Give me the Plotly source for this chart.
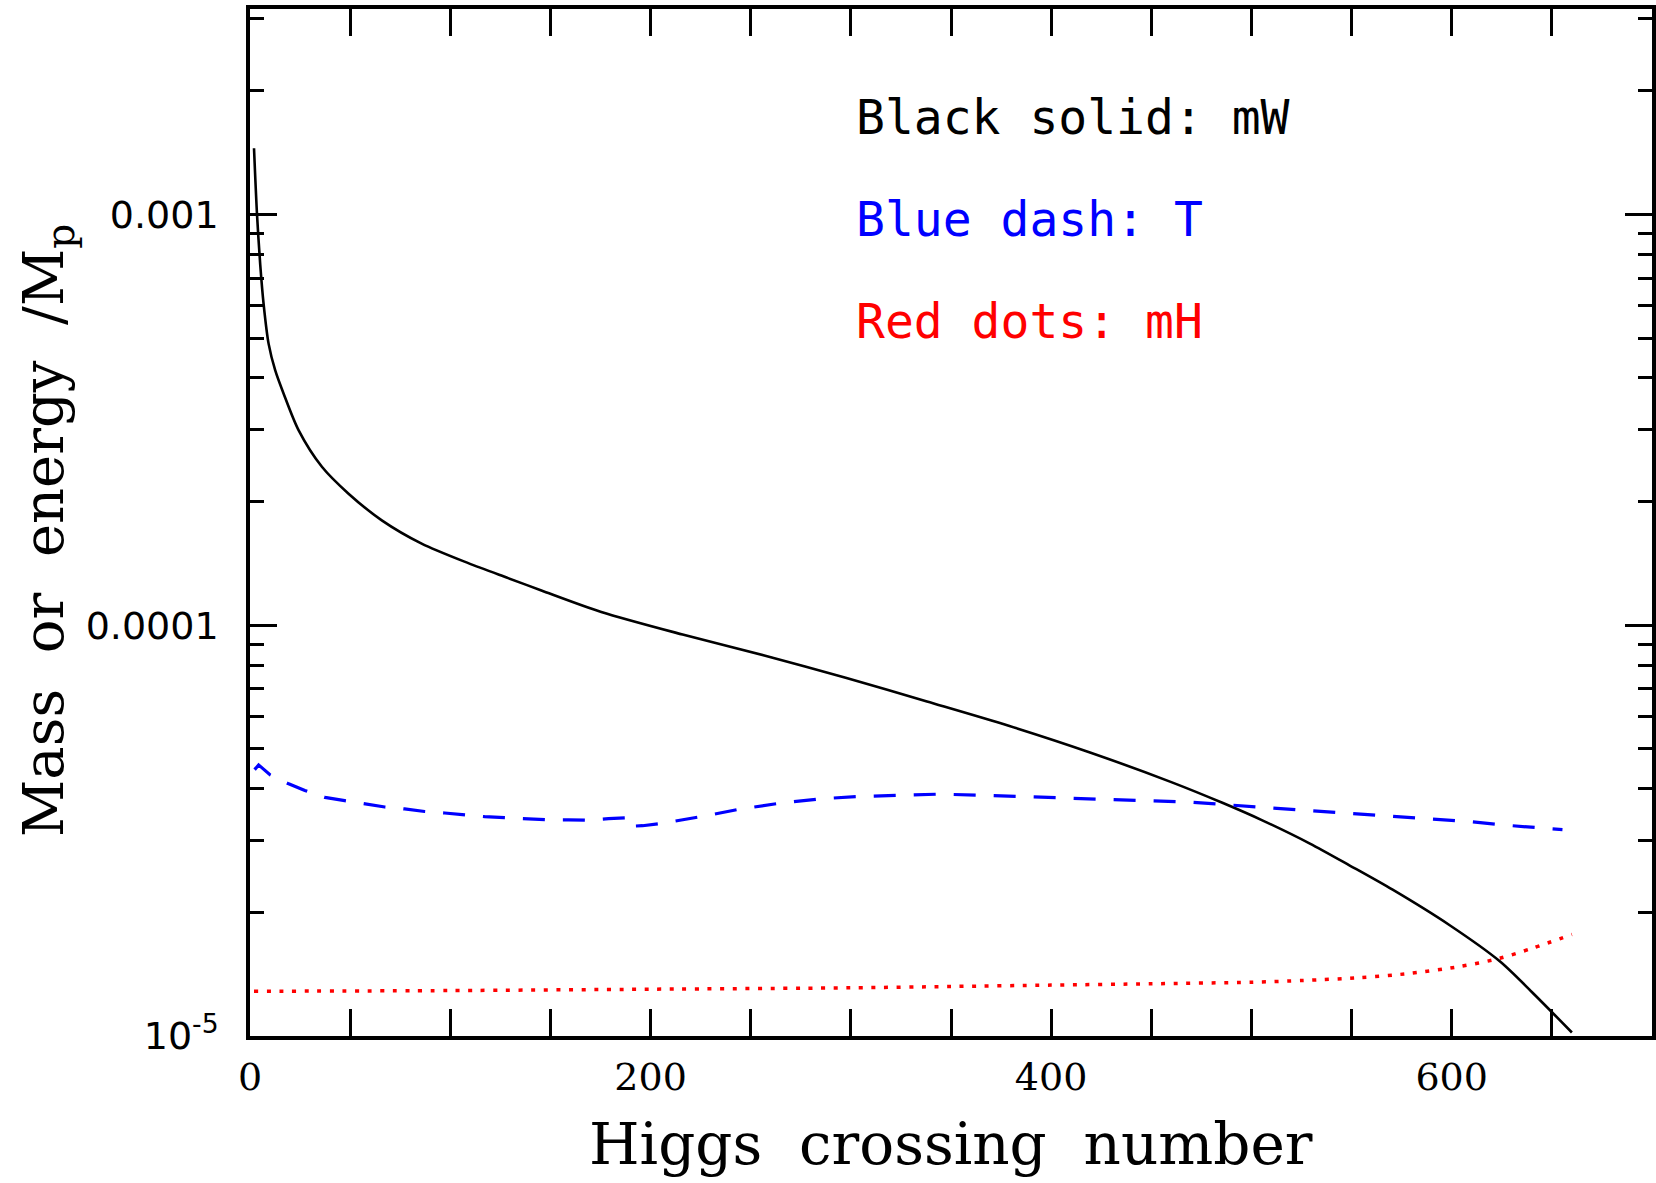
import plotly.graph_objects as go

# ---- data ----
mw_x = [2, 3.5, 5.1, 6.8, 9.3, 12.6, 16.8, 24.3, 35.9, 49.2, 65.8, 85.7, 109, 128.9, 145.5,
        175.4, 216, 256.8, 297.4, 338, 378.8, 419.4, 460, 485.8, 505.7, 529.2, 549.1, 570.5,
        599, 624, 640, 660]
mw_y = [1.449e-3, 1.0e-3, 7.56e-4, 6.05e-4, 4.84e-4, 4.17e-4, 3.66e-4, 2.98e-4, 2.43e-4, 2.09e-4,
        1.80e-4, 1.58e-4, 1.416e-4, 1.302e-4, 1.215e-4, 1.077e-4, 9.49e-5, 8.44e-5, 7.45e-5,
        6.52e-5, 5.69e-5, 4.90e-5, 4.15e-5, 3.69e-5, 3.345e-5, 2.94e-5, 2.60e-5, 2.27e-5,
        1.86e-5, 1.52e-5, 1.28e-5, 1.02e-5]

t_x = [2.3, 4.3, 10.1, 19.3, 27.4, 37.4, 47.3, 57.3, 67.3, 77.2, 87.2, 97.2, 107.1, 117.1, 127,
       139, 149, 159, 169, 179, 189, 190, 196, 205, 215, 225.2, 245.1, 265.1, 285, 305, 324.9,
       344.8, 364.7, 384.7, 404.6, 424.5, 444.4, 469.4, 489.3, 510.7, 530.6, 549.1, 570.5,
       590.4, 610.4, 630.3, 655.3]
t_y = [4.45e-5, 4.57e-5, 4.32e-5, 4.11e-5, 3.96e-5, 3.81e-5, 3.74e-5, 3.67e-5, 3.61e-5, 3.57e-5,
       3.52e-5, 3.49e-5, 3.45e-5, 3.42e-5, 3.40e-5, 3.38e-5, 3.36e-5, 3.36e-5, 3.35e-5, 3.38e-5,
       3.40e-5, 3.24e-5, 3.25e-5, 3.29e-5, 3.35e-5, 3.42e-5, 3.57e-5, 3.69e-5, 3.78e-5, 3.83e-5,
       3.855e-5, 3.88e-5, 3.855e-5, 3.835e-5, 3.80e-5, 3.77e-5, 3.75e-5, 3.71e-5, 3.65e-5,
       3.59e-5, 3.54e-5, 3.49e-5, 3.43e-5, 3.365e-5, 3.32e-5, 3.25e-5, 3.18e-5]

mh_x = [2, 100, 200, 300, 350, 400, 450, 500, 525.7, 554, 579, 604, 624, 640, 660]
mh_y = [1.285e-5, 1.29e-5, 1.30e-5, 1.31e-5, 1.32e-5, 1.33e-5, 1.34e-5, 1.352e-5, 1.365e-5,
        1.387e-5, 1.42e-5, 1.476e-5, 1.546e-5, 1.634e-5, 1.767e-5]

x_ticks = [0, 200, 400, 600]
x_ticktext = ["0", "200", "400", "600"]
y_ticks = [1e-5, 1e-4, 1e-3]
y_ticktext = ["10<sup>-5</sup>", "0.0001", "0.001"]
y_minor_mult = [2, 3, 4, 5, 6, 7, 8, 9]
y_decades = [1e-5, 1e-4, 1e-3]

legend_lines = ["Black solid: mW", "Blue dash: T", "Red dots: mH"]
legend_colors = ["black", "blue", "red"]

# ---- figure ----
fig = go.Figure()
fig.add_trace(go.Scatter(x=mw_x, y=mw_y, mode="lines",
                         line=dict(color="black", width=2.6, shape="spline", smoothing=0.8),
                         showlegend=False))
fig.add_trace(go.Scatter(x=t_x, y=t_y, mode="lines",
                         line=dict(color="blue", width=3.2, dash="22px,18px"), showlegend=False))
fig.add_trace(go.Scatter(x=mh_x, y=mh_y, mode="lines", yaxis="y2",
                         line=dict(color="red", width=3.5, dash="4px,8.6px",
                                   shape="spline", smoothing=0.8),
                         showlegend=False))

minor_vals = [m * d for d in y_decades for m in y_minor_mult if m * d <= 3.2e-3]

fig.update_xaxes(
    range=[0, 700], showline=True, linecolor="black", linewidth=3.5, mirror="allticks",
    ticks="inside", ticklen=27, tickwidth=3, tickcolor="black",
    tickmode="array", tickvals=x_ticks, ticktext=x_ticktext,
    tickfont=dict(family="DejaVu Serif", size=38, color="black"),
    ticklabelstandoff=5,
    minor=dict(ticks="inside", ticklen=14, tickwidth=3, tickcolor="black", dtick=50, tick0=0),
    showgrid=False, zeroline=False,
)
yaxis_common = dict(
    type="log", range=[-5, -2.5],
    ticks="inside", ticklen=27, tickwidth=3, tickcolor="black",
    tickmode="array", tickvals=y_ticks,
    minor=dict(ticks="inside", ticklen=14, tickwidth=3, tickcolor="black",
               tickmode="array", tickvals=minor_vals),
    showgrid=False, zeroline=False,
)
fig.update_layout(
    yaxis=dict(**yaxis_common, showline=True, linecolor="black", linewidth=3.5, mirror=True,
               ticktext=y_ticktext, ticklabelstandoff=20,
               tickfont=dict(family="DejaVu Sans", size=38, color="black")),
    yaxis2=dict(**yaxis_common, overlaying="y", side="right", showline=False,
                showticklabels=False),
)

annotations = []
ys = [0.8948, 0.7959, 0.6960]
for txt, col, yy in zip(legend_lines, legend_colors, ys):
    annotations.append(dict(text=txt, xref="paper", yref="paper", x=0.4309, y=yy,
                            xanchor="left", yanchor="middle", showarrow=False,
                            font=dict(family="DejaVu Sans Mono", size=48, color=col)))
annotations.append(dict(text="Mass  or  energy  /M<sub>p</sub>", xref="paper", yref="paper",
                        x=-0.1446, y=0.492, xanchor="center", yanchor="middle",
                        textangle=-90, showarrow=False,
                        font=dict(family="DejaVu Serif", size=56, color="black")))
annotations.append(dict(text="Higgs  crossing  number", xref="paper", yref="paper",
                        x=0.5, y=-0.1048, xanchor="center", yanchor="middle",
                        showarrow=False,
                        font=dict(family="DejaVu Serif", size=58, color="black")))

fig.update_layout(
    width=1656, height=1183,
    margin=dict(l=250, r=4, t=9, b=147, autoexpand=False),
    paper_bgcolor="white", plot_bgcolor="white",
    annotations=annotations,
    showlegend=False,
)

fig.write_html("out.html", config={"displayModeBar": False},
               post_script="document.body.style.margin='0';document.body.style.overflow='hidden';")
